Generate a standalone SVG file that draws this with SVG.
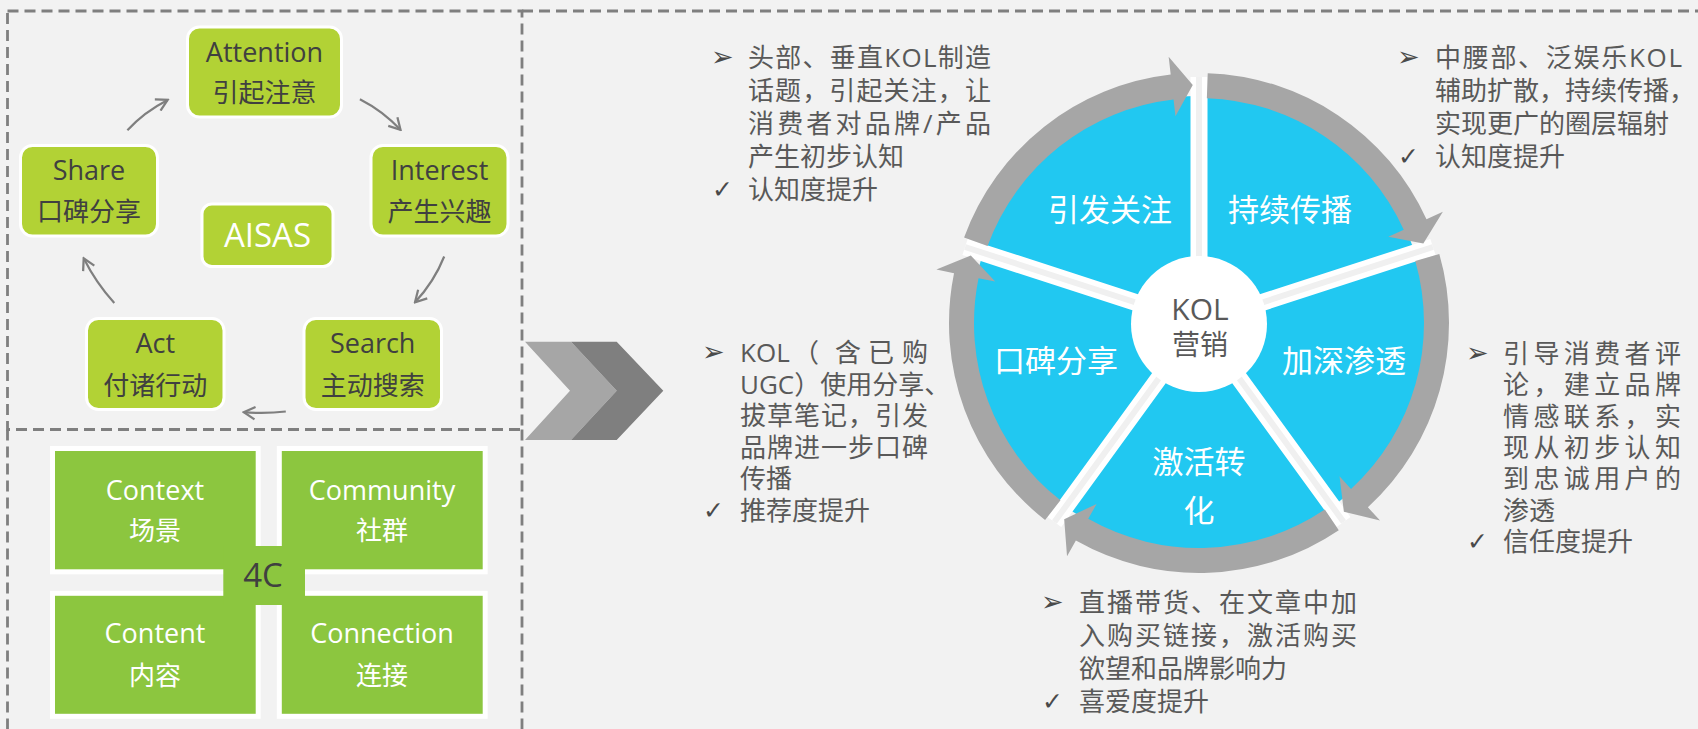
<svg xmlns="http://www.w3.org/2000/svg" width="1698" height="729" viewBox="0 0 1698 729">
<defs>
<style>
.t{font-family:'Open Sans','Noto Sans CJK SC',sans-serif;}
.sym{font-family:'DejaVu Sans',sans-serif;fill:#4a4a4a;font-size:27px;}
.chk{font-family:'DejaVu Sans',sans-serif;fill:#4a4a4a;font-size:25px;}
.dash{fill:none;stroke:#7f7f7f;stroke-width:2.8;stroke-dasharray:11 6;}
.an rect{fill:#b2d235;stroke:#fff;stroke-width:3;}
.an text{fill:#404040;text-anchor:middle;}
.lat{font-size:27px;}
.cjk{font-size:26px;}
.c4 rect{fill:#8cc63f;stroke:#fff;stroke-width:5;}
.c4 text{fill:#fff;text-anchor:middle;}
.blk text.t{fill:#595959;font-size:26px;}
.seg{fill:#fff;font-size:31px;text-anchor:middle;}
.conn{fill:none;stroke:#7f7f7f;stroke-width:2.2;marker-end:url(#ah);}
.ring{fill:#a6a6a6;}
.divw{stroke:#fff;stroke-width:17;}
.divg{stroke:#f0f0f0;stroke-width:6;}
</style>
<marker id="ah" viewBox="0 0 12 12" refX="10.5" refY="6" markerWidth="15" markerHeight="15" markerUnits="userSpaceOnUse" orient="auto"><path d="M1.5,1 L10.5,6 L1.5,11" fill="none" stroke="#7f7f7f" stroke-width="1.8"/></marker>
</defs>
<rect x="0" y="0" width="1698" height="729" fill="#f2f2f2"/>

<g id="frames">
<rect class="dash" x="7.5" y="11" width="514.5" height="418.5"/>
<path class="dash" d="M522,11 H1698"/>
<path class="dash" d="M7.5,429.5 V729 M522,429.5 V729"/>
</g>

<g id="aisas">
<g id="n-attention" class="an"><rect x="187.5" y="27" width="154" height="90" rx="12"/><text class="t lat" x="264.5" y="62">Attention</text><text class="t cjk" x="264.5" y="102">引起注意</text></g>
<g id="n-interest" class="an"><rect x="371" y="145.5" width="137" height="90.5" rx="12"/><text class="t lat" x="439.5" y="180">Interest</text><text class="t cjk" x="439.5" y="221">产生兴趣</text></g>
<g id="n-search" class="an"><rect x="304" y="318.5" width="137.5" height="91" rx="12"/><text class="t lat" x="372.7" y="353">Search</text><text class="t cjk" x="372.7" y="395">主动搜索</text></g>
<g id="n-act" class="an"><rect x="86.5" y="318.5" width="137.5" height="91" rx="12"/><text class="t lat" x="155.2" y="353">Act</text><text class="t cjk" x="155.2" y="395">付诸行动</text></g>
<g id="n-share" class="an"><rect x="20.5" y="145.5" width="137" height="90.5" rx="12"/><text class="t lat" x="89" y="180">Share</text><text class="t cjk" x="89" y="221">口碑分享</text></g>
<g id="n-aisas" class="an"><rect x="202" y="204" width="131" height="62.5" rx="10"/><text class="t" x="267.5" y="247" style="fill:#fff;font-size:33px">AISAS</text></g>
</g>

<g id="connectors">
<path class="conn" d="M127.4,130.2 Q144,112 167.7,99.9"/>
<path class="conn" d="M359.9,99.2 Q383,111 400.5,129.8"/>
<path class="conn" d="M444.2,256.5 Q434,282 415,302.3"/>
<path class="conn" d="M285.8,411.5 Q265,414 243.8,412.2"/>
<path class="conn" d="M114.3,303 Q96,283 83.7,258.3"/>
</g>

<g id="fourc">
<g id="n-context" class="c4"><rect x="52.5" y="448.5" width="205.7" height="123.3"/><text class="t lat" x="155" y="500">Context</text><text class="t cjk" x="155" y="540">场景</text></g>
<g id="n-community" class="c4"><rect x="279.3" y="448.5" width="205.9" height="123.3"/><text class="t lat" x="382" y="500">Community</text><text class="t cjk" x="382" y="540">社群</text></g>
<g id="n-content" class="c4"><rect x="52.5" y="593.3" width="205.7" height="123"/><text class="t lat" x="155" y="643">Content</text><text class="t cjk" x="155" y="685">内容</text></g>
<g id="n-connection" class="c4"><rect x="279.3" y="593.3" width="205.9" height="123"/><text class="t lat" x="382" y="643">Connection</text><text class="t cjk" x="382" y="685">连接</text></g>
<g id="n-4c"><rect x="223.3" y="546" width="81.7" height="59" fill="#8cc63f"/><text class="t" x="263" y="587" text-anchor="middle" fill="#404040" font-size="33">4C</text></g>
</g>

<g id="chevron">
<path d="M525,341.7 L571,341.7 L616.7,390.7 L571,440 L525,440 L570,390.7 Z" fill="#a6a6a6"/>
<path d="M571,341.7 L616.7,341.7 L663.3,390.7 L616.7,440 L571,440 L616.7,390.7 Z" fill="#7f7f7f"/>
</g>

<g id="wheel">
<circle cx="1199" cy="323" r="227" fill="#21c8f1"/>
<g id="dividers">
<path class="divw" d="M1199,323 L1199,77 M1199,323 L1432.96,246.98 M1199,323 L1343.6,522.02 M1199,323 L1054.4,522.02 M1199,323 L965.04,246.98"/>
<path class="divg" d="M1199,323 L1199,77 M1199,323 L1432.96,246.98 M1199,323 L1343.6,522.02 M1199,323 L1054.4,522.02 M1199,323 L965.04,246.98"/>
</g>
<g id="ring-arrows">
<path class="ring" d="M964.08,237.49 A250,250 0 0 1 1170.70,74.61 L1168.66,56.72 L1192.77,85.08 L1175.45,116.34 L1173.53,99.45 A225,225 0 0 0 987.57,246.05 Z"/>
<path class="ring" d="M1207.73,73.15 A250,250 0 0 1 1426.49,219.33 L1442.87,211.86 L1423.35,243.55 L1388.27,236.74 L1403.74,229.69 A225,225 0 0 0 1206.85,98.14 Z"/>
<path class="ring" d="M1439.32,254.09 A250,250 0 0 1 1367.90,507.32 L1380.06,520.59 L1343.88,511.82 L1339.52,476.35 L1351.01,488.89 A225,225 0 0 0 1415.28,260.98 Z"/>
<path class="ring" d="M1338.80,530.26 A250,250 0 0 1 1075.89,540.59 L1067.03,556.26 L1064.19,519.14 L1096.58,504.03 L1088.21,518.83 A225,225 0 0 0 1324.82,509.53 Z"/>
<path class="ring" d="M1045.08,520.00 A250,250 0 0 1 954.02,273.16 L936.38,269.57 L970.80,255.40 L995.18,281.53 L978.52,278.14 A225,225 0 0 0 1060.48,500.30 Z"/>
</g>
<g id="s-attention"><text class="t seg" x="1110" y="221">引发关注</text></g>
<g id="s-spread"><text class="t seg" x="1290" y="221">持续传播</text></g>
<g id="s-deepen"><text class="t seg" x="1344" y="372">加深渗透</text></g>
<g id="s-convert"><text class="t seg" x="1199" y="473">激活转</text><text class="t seg" x="1199" y="522">化</text></g>
<g id="s-share"><text class="t seg" x="1056" y="372">口碑分享</text></g>
<g id="center"><circle cx="1199" cy="324" r="68" fill="#fff"/><text class="t" x="1200" y="320" text-anchor="middle" fill="#595959" font-size="30">KOL</text><text class="t" x="1200" y="355" text-anchor="middle" fill="#595959" font-size="28">营销</text></g>
</g>

<g id="text-1" class="blk">
<text class="sym" x="711" y="66">➢</text>
<text class="t" x="748" y="67" textLength="243" lengthAdjust="spacing">头部、垂直KOL制造</text>
<text class="t" x="748" y="100" textLength="243" lengthAdjust="spacing">话题，引起关注，让</text>
<text class="t" x="748" y="133" textLength="243" lengthAdjust="spacing">消费者对品牌/产品</text>
<text class="t" x="748" y="166">产生初步认知</text>
<text class="chk" x="712" y="198">✓</text>
<text class="t" x="748" y="199">认知度提升</text>
</g>

<g id="text-2" class="blk">
<text class="sym" x="1397" y="66">➢</text>
<text class="t" x="1435" y="67" textLength="247" lengthAdjust="spacing">中腰部、泛娱乐KOL</text>
<text class="t" x="1435" y="100">辅助扩散，持续传播，</text>
<text class="t" x="1435" y="133">实现更广的圈层辐射</text>
<text class="chk" x="1398" y="165">✓</text>
<text class="t" x="1435" y="166">认知度提升</text>
</g>

<g id="text-3" class="blk">
<text class="sym" x="702" y="361">➢</text>
<text class="t" y="362"><tspan x="740">KOL</tspan><tspan x="793">（</tspan><tspan x="835">含</tspan><tspan x="868">已</tspan><tspan x="902">购</tspan></text>
<text class="t" x="740" y="393.5">UGC）使用分享、</text>
<text class="t" x="740" y="425" textLength="188" lengthAdjust="spacing">拔草笔记，引发</text>
<text class="t" x="740" y="456.5" textLength="188" lengthAdjust="spacing">品牌进一步口碑</text>
<text class="t" x="740" y="488">传播</text>
<text class="chk" x="703" y="518.5">✓</text>
<text class="t" x="740" y="519.5">推荐度提升</text>
</g>

<g id="text-4" class="blk">
<text class="sym" x="1466" y="362">➢</text>
<text class="t" x="1503" y="363" textLength="178" lengthAdjust="spacing">引导消费者评</text>
<text class="t" x="1503" y="394.3" textLength="178" lengthAdjust="spacing">论，建立品牌</text>
<text class="t" x="1503" y="425.6" textLength="178" lengthAdjust="spacing">情感联系，实</text>
<text class="t" x="1503" y="456.9" textLength="178" lengthAdjust="spacing">现从初步认知</text>
<text class="t" x="1503" y="488.2" textLength="178" lengthAdjust="spacing">到忠诚用户的</text>
<text class="t" x="1503" y="519.5">渗透</text>
<text class="chk" x="1467" y="549.8">✓</text>
<text class="t" x="1503" y="550.8">信任度提升</text>
</g>

<g id="text-5" class="blk">
<text class="sym" x="1041" y="611">➢</text>
<text class="t" x="1079" y="612" textLength="278" lengthAdjust="spacing">直播带货、在文章中加</text>
<text class="t" x="1079" y="645" textLength="278" lengthAdjust="spacing">入购买链接，激活购买</text>
<text class="t" x="1079" y="678">欲望和品牌影响力</text>
<text class="chk" x="1042" y="710">✓</text>
<text class="t" x="1079" y="711">喜爱度提升</text>
</g>
</svg>
